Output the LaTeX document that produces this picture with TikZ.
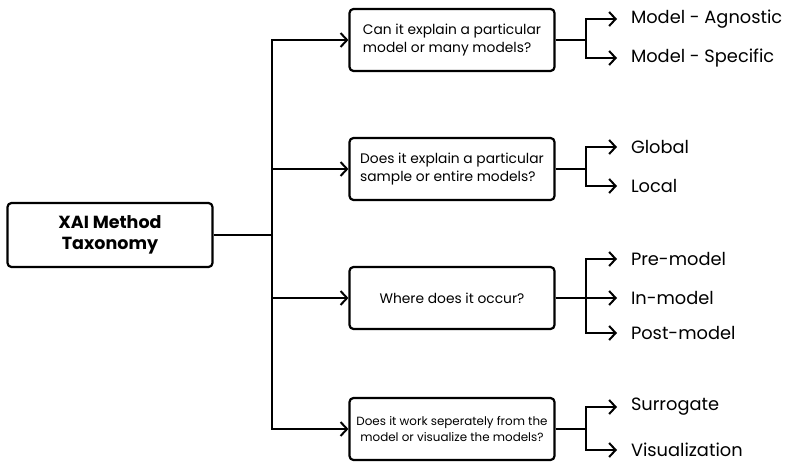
\documentclass[tikz,border=0pt]{standalone}
\usepackage{fontspec}
\setmainfont{Poppins}
\usetikzlibrary{arrows.meta,positioning}

\begin{document}
\begin{tikzpicture}[x=1pt,y=-1pt,line width=2.2pt,
  rootbox/.style={draw,rounded corners=4pt,minimum width=205pt,minimum height=64pt,align=center,font=\fontsize{17.5}{21}\selectfont\bfseries},
  qbox/.style={draw,rounded corners=4pt,minimum width=205pt,minimum height=62pt,align=left,font=\fontsize{13.8}{18}\selectfont},
  leaf/.style={anchor=west,inner sep=0pt,outer xsep=14pt,font=\fontsize{17.8}{20}\selectfont},
  arr/.style={-{Straight Barb[length=6.5pt,width=14pt,line width=2pt]}}]
\useasboundingbox (0,0) rectangle (786,462);

\node[rootbox] (root) at(110,235) {XAI Method\\Taxonomy};
\coordinate (trunk) at(272,235);

\node[qbox] (q1) at(452,40) {Can it explain a particular\\model or many models?};
\node[qbox] (q2) at(452,169) {Does it explain a particular\\sample or entire models?};
\node[qbox] (q3) at(452,298) {Where does it occur?};
\node[qbox,font=\fontsize{11.9}{16}\selectfont,align=center] (q4) at(452,429) {Does it work seperately from the\\model or visualize the models?};

\node[leaf] (agn) at(617,19) {Model - Agnostic};
\node[leaf] (spec) at(617,58) {Model - Specific};
\node[leaf] (glob) at(617,147) {Global};
\node[leaf] (loc) at(617,186) {Local};
\node[leaf] (pre) at(617,259) {Pre-model};
\node[leaf] (in) at(617,298) {In-model};
\node[leaf] (post) at(617,333) {Post-model};
\node[leaf] (surr) at(617,407) {Surrogate};
\node[leaf] (vis) at(617,450) {Visualization};

% trunk
\draw (root.east) -- (trunk);
\draw[arr] (trunk) |- (q1);
\draw[arr] (trunk) |- (q2);
\draw[arr] (trunk) |- (q3);
\draw[arr] (trunk) |- (q4);

% branches
\draw[arr] (q1.east) -- ++(30,0) |- (agn);
\draw[arr] (q1.east) -- ++(30,0) |- (spec);
\draw[arr] (q2.east) -- ++(30,0) |- (glob);
\draw[arr] (q2.east) -- ++(30,0) |- (loc);
\draw[arr] (q3.east) -- ++(30,0) |- (pre);
\draw[arr] (q3.east) -- (in);
\draw[arr] (q3.east) -- ++(30,0) |- (post);
\draw[arr] (q4.east) -- ++(30,0) |- (surr);
\draw[arr] (q4.east) -- ++(30,0) |- (vis);
\end{tikzpicture}
\end{document}
